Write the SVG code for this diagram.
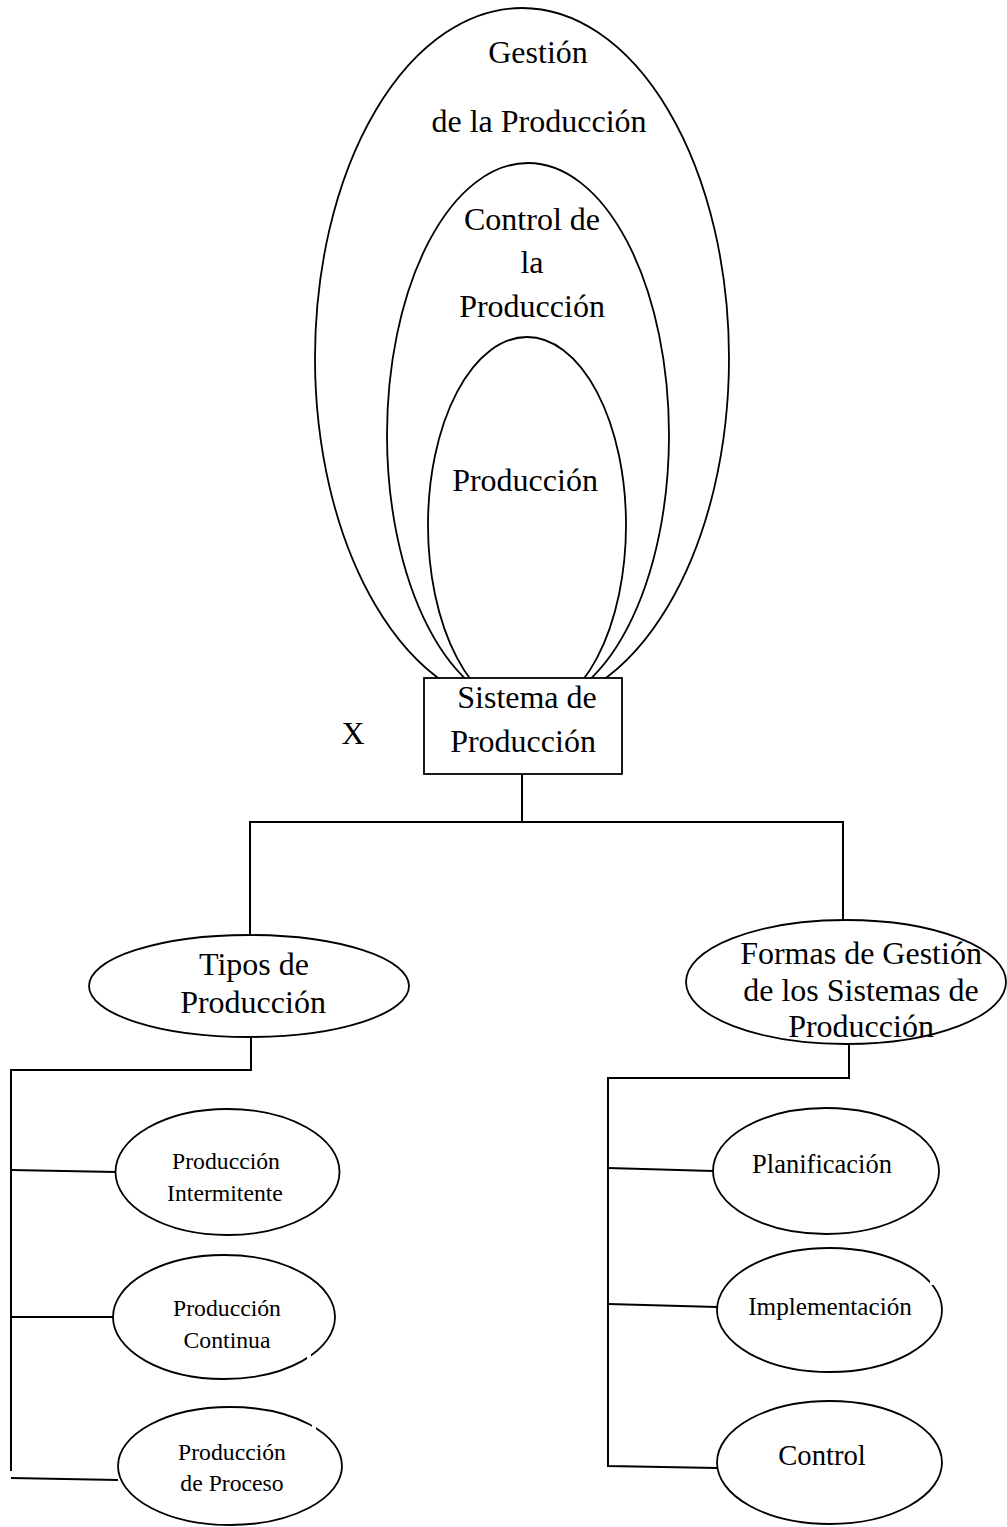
<svg xmlns="http://www.w3.org/2000/svg" width="1007" height="1527" viewBox="0 0 1007 1527">
<style>
.s{fill:none;stroke:#000;stroke-width:1.8}
.w{fill:#fff;stroke:#000;stroke-width:1.8}
.c{fill:none;stroke:#000;stroke-width:2}
text{font-family:'Liberation Serif',Tinos,'Times New Roman',Times,serif;fill:#000;text-anchor:middle}
.L{font-size:32px}
</style>
<rect width="1007" height="1527" fill="#fff"/>
<g font-family="Liberation Serif, Times New Roman, serif">
<g id="gestion">
<ellipse class="s" cx="522" cy="358" rx="207" ry="350"/>
<text class="L" x="538" y="63">Gestión</text>
<text class="L" x="539" y="132">de la Producción</text>
</g>
<g id="control-produccion">
<ellipse class="s" cx="528" cy="435" rx="141" ry="272"/>
<text class="L" x="532" y="230">Control de</text>
<text class="L" x="532" y="273">la</text>
<text class="L" x="532" y="317">Producción</text>
</g>
<g id="produccion">
<ellipse class="s" cx="527" cy="525" rx="99" ry="188"/>
<text class="L" x="525" y="491">Producción</text>
</g>
<g id="sistema">
<rect class="w" x="424" y="678" width="198" height="96"/>
<text class="L" x="527" y="708">Sistema de</text>
<text class="L" x="523" y="752">Producción</text>
</g>
<g id="x-label">
<text class="L" x="353" y="744">X</text>
</g>
<g id="connectors">
<polyline class="c" points="522,774 522,822"/>
<polyline class="c" points="250,935 250,822 843,822 843,920"/>
<polyline class="c" points="251,1037 251,1070 11,1070 11,1471"/>
<line class="c" x1="11" y1="1170" x2="116" y2="1172"/>
<line class="c" x1="11" y1="1317" x2="113" y2="1317"/>
<line class="c" x1="11" y1="1478" x2="118" y2="1480"/>
<polyline class="c" points="849,1044 849,1078 608,1078 608,1466 717,1468"/>
<line class="c" x1="608" y1="1168" x2="713" y2="1171"/>
<line class="c" x1="608" y1="1304" x2="717" y2="1307"/>
</g>
<g id="tipos">
<ellipse class="s" cx="249" cy="986" rx="160" ry="51"/>
<text class="L" x="254" y="975">Tipos de</text>
<text class="L" x="253" y="1013">Producción</text>
</g>
<g id="formas">
<ellipse class="s" cx="846" cy="982" rx="160" ry="62"/>
<text class="L" x="861" y="964">Formas de Gestión</text>
<text class="L" x="861" y="1001">de los Sistemas de</text>
<text class="L" x="861" y="1037">Producción</text>
</g>
<g id="intermitente">
<ellipse class="s" cx="227.5" cy="1172" rx="112" ry="63"/>
<text x="226" y="1169" font-size="23.7">Producción</text>
<text x="225" y="1201" font-size="23.7">Intermitente</text>
</g>
<g id="continua">
<ellipse class="s" cx="224" cy="1317" rx="111" ry="62"/>
<rect x="307" y="1353" width="4" height="6" fill="#fff"/>
<text x="227" y="1316" font-size="23.7">Producción</text>
<text x="227" y="1348" font-size="23.7">Continua</text>
</g>
<g id="proceso">
<ellipse class="s" cx="230" cy="1466" rx="112" ry="59"/>
<rect x="312" y="1424" width="4" height="5" fill="#fff"/>
<text x="232" y="1460" font-size="23.7">Producción</text>
<text x="232" y="1491" font-size="23.7">de Proceso</text>
</g>
<g id="planificacion">
<ellipse class="s" cx="826" cy="1171" rx="113" ry="63"/>
<text x="822" y="1173" font-size="26.5">Planificación</text>
</g>
<g id="implementacion">
<ellipse class="s" cx="829.5" cy="1310" rx="112.5" ry="62"/>
<rect x="930" y="1279" width="5" height="6" fill="#fff"/>
<text x="830" y="1315" font-size="25.2">Implementación</text>
</g>
<g id="control">
<ellipse class="s" cx="829.5" cy="1462.5" rx="112.5" ry="61.5"/>
<text x="822" y="1465" font-size="28.7">Control</text>
</g>
</g>
</svg>
